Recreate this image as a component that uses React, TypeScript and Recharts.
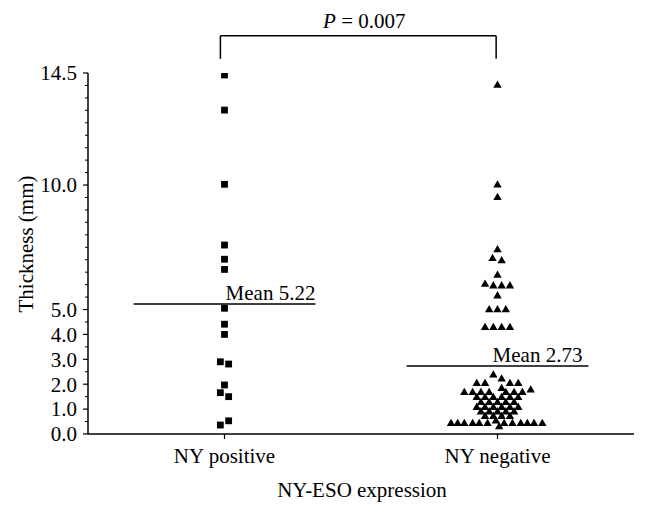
import React from 'react';
import { ScatterChart, Scatter, XAxis, YAxis, ReferenceLine } from 'recharts';

// ---------- data ----------
const categories = ['NY positive', 'NY negative'];
const yMajorTicks = [0, 1, 2, 3, 4, 5, 10, 14.5];
const yMinorTicks = [
  0.5, 1.5, 2.5, 3.5, 4.5, 5.5, 6, 6.5, 7, 7.5, 8, 8.5, 9, 9.5,
  10.5, 11, 11.5, 12, 12.5, 13, 13.5, 14,
];

// NY positive group (thickness in mm) and horizontal swarm slot
const positiveThickness = [14.42, 13.01, 10.03, 7.59, 7.02, 6.61, 5.05, 4.41, 4.0, 2.9, 2.81, 1.97, 1.66, 1.5, 0.36, 0.53];
const positiveSlot = [0, 0, 0, 0, 0, 0, 0, 0, 0, -0.5, 0.5, 0, -0.5, 0.5, -0.5, 0.5];

// NY negative group (thickness in mm) and horizontal swarm slot
const negativeThickness = [
  14.04, 10.03, 9.53, 7.43, 7.08, 6.99, 6.41,
  6.05, 5.98, 5.98, 5.98, 5.58,
  5.02, 5.02, 5.02,
  4.31, 4.31, 4.31, 4.31,
  2.40, 2.24,
  2.06, 2.06, 2.06, 2.06,
  1.86, 1.80,
  1.70, 1.70, 1.70, 1.70, 1.70, 1.70, 1.70,
  1.50, 1.50, 1.50, 1.50, 1.50, 1.50,
  1.30, 1.30, 1.30, 1.30, 1.30,
  1.10, 1.10, 1.10, 1.10, 1.10, 1.10,
  0.92, 0.92, 0.92, 0.92, 0.92,
  0.74, 0.74, 0.74, 0.74,
  0.45, 0.45, 0.45, 0.45, 0.45, 0.45, 0.45, 0.45, 0.45, 0.45, 0.45, 0.45,
  0.55, 0.32,
];
const negativeSlot = [
  0, 0, 0, 0, -0.6, 0.5, 0,
  -1.5, -0.5, 0.5, 1.5, 0,
  -1, 0, 1,
  -1.5, -0.5, 0.5, 1.5,
  -0.5, 0.5,
  -2.5, -1.5, 1.5, 2.5,
  0.5, 4,
  -4, -3, -2, -1, 1, 2, 3,
  -2.5, -1.5, -0.5, 0.5, 1.5, 2.5,
  -2, -1, 0, 1, 2,
  -2.5, -1.5, -0.5, 0.5, 1.5, 2.5,
  -2, -1, 0, 1, 2,
  -1.5, -0.5, 0.5, 1.5,
  -5.6, -4.8, -4, -3, -2.2, -1.2, 0.8, 1.8, 2.8, 3.6, 4.4, 5.4,
  -0.2, 0.2,
];

const groupMeans = [5.22, 2.73];
const pValueText = '0.007';

// ---------- layout constants ----------
const FONT = '"Liberation Serif", "Times New Roman", serif';
const FS = 21;
const SLOT = 8.3 / 273; // one marker width in category units
const MEAN_HALF = 0.333;
const BRACKET_LOW = 15.07;
const BRACKET_HIGH = 16.0;

const positiveData = positiveThickness.map((v, i) => ({ x: 1 + positiveSlot[i] * SLOT, y: v }));
const negativeData = negativeThickness.map((v, i) => ({ x: 2 + negativeSlot[i] * SLOT, y: v }));

const majorSet = new Set(yMajorTicks);
const allYTicks = [...yMajorTicks, ...yMinorTicks].sort((a, b) => a - b);

const SquareShape = (props: any) => {
  const { cx, cy } = props;
  if (cx == null || cy == null) return null;
  return <rect x={cx - 3.4} y={cy - 3.4} width={6.8} height={6.8} fill="#000" />;
};

const TriangleShape = (props: any) => {
  const { cx, cy } = props;
  if (cx == null || cy == null) return null;
  return (
    <polygon
      points={`${cx},${cy - 4} ${cx + 4.2},${cy + 3.3} ${cx - 4.2},${cy + 3.3}`}
      fill="#000"
    />
  );
};

const YTick = (props: any) => {
  const { x, y, payload } = props;
  const v = payload.value;
  if (majorSet.has(v)) {
    return (
      <g>
        <line x1={x - 5} y1={y} x2={x} y2={y} stroke="#000" strokeWidth={1.2} />
        <text x={x - 11} y={y} dy="0.35em" textAnchor="end" fontFamily={FONT} fontSize={FS} fill="#000">
          {v.toFixed(1)}
        </text>
      </g>
    );
  }
  return <line x1={x - 3} y1={y} x2={x} y2={y} stroke="#000" strokeWidth={1} />;
};

const XTick = (props: any) => {
  const { x, y, payload } = props;
  return (
    <g>
      <line x1={x} y1={y} x2={x} y2={y + 5} stroke="#000" strokeWidth={1.2} />
      <text x={x} y={y + 29} textAnchor="middle" fontFamily={FONT} fontSize={FS} fill="#000">
        {categories[payload.value - 1]}
      </text>
    </g>
  );
};

const XTitle = (props: any) => {
  const vb = props.viewBox || { x: 88, y: 434, width: 546, height: 82 };
  return (
    <text x={vb.x + vb.width / 2 + 1} y={vb.y + 63} textAnchor="middle" fontFamily={FONT} fontSize={FS} fill="#000">
      NY-ESO expression
    </text>
  );
};

const YTitle = (props: any) => {
  const vb = props.viewBox || { x: 0, y: 73, width: 88, height: 361 };
  const cx = vb.x + 33;
  const cy = vb.y + vb.height / 2 - 9.5;
  return (
    <text
      x={cx}
      y={cy}
      textAnchor="middle"
      transform={`rotate(-90, ${cx}, ${cy})`}
      fontFamily={FONT}
      fontSize={FS}
      fill="#000"
    >
      Thickness (mm)
    </text>
  );
};

const meanLabel = (text: string, shift: number) => (props: any) => {
  const vb = props.viewBox;
  if (!vb) return null;
  return (
    <text x={vb.x + vb.width - shift} y={vb.y - 4} textAnchor="end" fontFamily={FONT} fontSize={FS} fill="#000">
      {text}
    </text>
  );
};

const PLabel = (props: any) => {
  const vb = props.viewBox;
  if (!vb) return null;
  return (
    <text x={vb.x + vb.width / 2 + 6} y={vb.y - 8} textAnchor="middle" fontFamily={FONT} fontSize={FS} fill="#000">
      <tspan fontStyle="italic">P</tspan>
      <tspan> = {pValueText}</tspan>
    </text>
  );
};

export default function App() {
  return (
    <div style={{ position: 'absolute', left: 0, top: 0, width: 648, height: 516, background: '#fff' }}>
      <ScatterChart width={648} height={516} margin={{ top: 73, right: 14, bottom: 0, left: 0 }}>
        <XAxis
          type="number"
          dataKey="x"
          domain={[0.5, 2.5]}
          ticks={[1, 2]}
          interval={0}
          height={82}
          tickSize={0}
          tickMargin={0}
          tickLine={false}
          tick={<XTick />}
          axisLine={{ stroke: '#000', strokeWidth: 1.5 }}
          allowDataOverflow
          label={(p: any) => <XTitle {...p} />}
        />
        <YAxis
          type="number"
          dataKey="y"
          domain={[0, 14.5]}
          ticks={allYTicks}
          interval={0}
          width={88}
          tickSize={0}
          tickMargin={0}
          tickLine={false}
          tick={<YTick />}
          axisLine={{ stroke: '#000', strokeWidth: 1.5 }}
          allowDataOverflow
          label={(p: any) => <YTitle {...p} />}
        />
        <Scatter data={positiveData} shape={SquareShape} isAnimationActive={false} />
        <Scatter data={negativeData} shape={TriangleShape} isAnimationActive={false} />
        <ReferenceLine
          segment={[{ x: 1 - MEAN_HALF, y: groupMeans[0] }, { x: 1 + MEAN_HALF, y: groupMeans[0] }]}
          stroke="#000"
          strokeWidth={1.5}
          ifOverflow="visible"
          label={meanLabel(`Mean ${groupMeans[0].toFixed(2)}`, 0)}
        />
        <ReferenceLine
          segment={[{ x: 2 - MEAN_HALF, y: groupMeans[1] }, { x: 2 + MEAN_HALF, y: groupMeans[1] }]}
          stroke="#000"
          strokeWidth={1.5}
          ifOverflow="visible"
          label={meanLabel(`Mean ${groupMeans[1].toFixed(2)}`, 6)}
        />
        <ReferenceLine
          segment={[{ x: 0.985, y: BRACKET_LOW }, { x: 0.985, y: BRACKET_HIGH }]}
          stroke="#000"
          strokeWidth={1.5}
          ifOverflow="visible"
        />
        <ReferenceLine
          segment={[{ x: 1.995, y: BRACKET_LOW }, { x: 1.995, y: BRACKET_HIGH }]}
          stroke="#000"
          strokeWidth={1.5}
          ifOverflow="visible"
        />
        <ReferenceLine
          segment={[{ x: 0.985, y: BRACKET_HIGH }, { x: 1.995, y: BRACKET_HIGH }]}
          stroke="#000"
          strokeWidth={1.5}
          ifOverflow="visible"
          label={PLabel}
        />
      </ScatterChart>
    </div>
  );
}
